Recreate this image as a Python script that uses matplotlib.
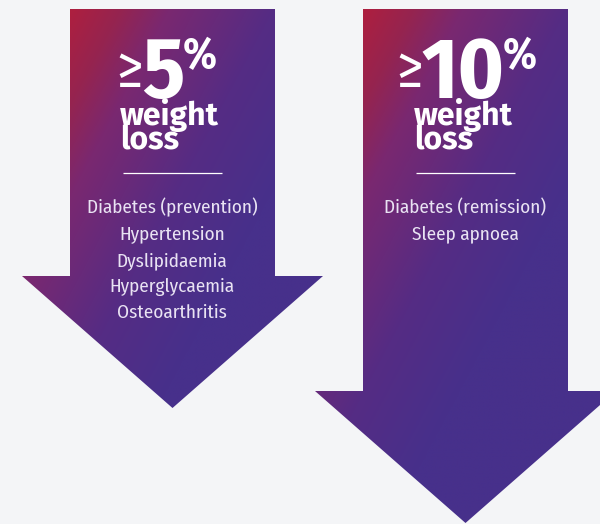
import numpy as np
import matplotlib
matplotlib.use("Agg")
import matplotlib.pyplot as plt
from matplotlib.patches import Polygon
from matplotlib.colors import LinearSegmentedColormap, Normalize

# Chart content
thresholds = ["5", "10"]
headline = ["weight", "loss"]
conditions_5 = ["Diabetes (prevention)", "Hypertension", "Dyslipidaemia",
                "Hyperglycaemia", "Osteoarthritis"]
conditions_10 = ["Diabetes (remission)", "Sleep apnoea"]
conditions = [conditions_5, conditions_10]

# layout (pixels, y down)
shaft_left = [70, 363]
shaft_w = 205
top_y = 9
head_y = [276, 391]
head_half = 150.5
head_h = 132
group_center = [166.5, 466.5]
wl_left = [120, 414]

bg = "#f4f5f7"
grad = LinearSegmentedColormap.from_list(
    "arrow", [(0.0, "#ae1f3f"), (0.17, "#952450"), (0.33, "#7a2870"),
              (0.68, "#552c84"), (1.0, "#47308b")])

cond_font = ["Fira Sans Condensed", "DejaVu Sans"]
bold_font = ["Fira Sans", "DejaVu Sans"]

fig = plt.figure(figsize=(6, 5.24), dpi=100, facecolor=bg)
ax = fig.add_axes([0, 0, 1, 1])
ax.set_facecolor(bg)
ax.set_xlim(0, 600)
ax.set_ylim(524, 0)
renderer = fig.canvas.get_renderer()

for i, pct in enumerate(thresholds):
    x0 = shaft_left[i]
    x1 = x0 + shaft_w
    cx = (x0 + x1) / 2
    hy = head_y[i]
    pts = [(x0, top_y), (x1, top_y), (x1, hy), (cx + head_half, hy),
           (cx, hy + head_h), (cx - head_half, hy), (x0, hy)]
    poly = Polygon(pts, closed=True, facecolor="none", edgecolor="none")
    ax.add_patch(poly)

    xmin, xmax = cx - head_half, cx + head_half
    ymin, ymax = top_y, hy + head_h
    xs = np.linspace(xmin, xmax, 320)
    ys = np.linspace(ymin, ymax, 420)
    X, Y = np.meshgrid(xs, ys)
    T = (X - x0) + 0.53 * (Y - top_y)
    img = ax.imshow(T, cmap=grad, norm=Normalize(0, 300), origin="upper",
                    extent=(xmin, xmax, ymax, ymin), aspect="auto",
                    interpolation="bilinear")
    img.set_clip_path(poly)

    # headline "≥5%" / "≥10%", laid out piece by piece
    ge = ax.text(0, 87, "≥", color="white", fontsize=42, family=cond_font,
                 fontweight="normal", ha="left", va="baseline")
    num = ax.text(0, 98, pct, color="white", fontsize=62, family=cond_font,
                  fontweight="bold", ha="left", va="baseline")
    pc = ax.text(0, 68, "%", color="white", fontsize=31, family=cond_font,
                 fontweight="bold", ha="left", va="baseline")
    w_ge = ge.get_window_extent(renderer).width
    w_num = num.get_window_extent(renderer).width
    w_pc = pc.get_window_extent(renderer).width
    gap1, gap2 = -1, -2
    total = w_ge + gap1 + w_num + gap2 + w_pc
    left = group_center[i] - total / 2
    ge.set_x(left)
    num.set_x(left + w_ge + gap1)
    pc.set_x(left + w_ge + gap1 + w_num + gap2)

    ax.text(wl_left[i], 125, headline[0], color="white", fontsize=23,
            family=bold_font, fontweight="bold", ha="left", va="baseline")
    ax.text(wl_left[i], 150, headline[1], color="white", fontsize=23,
            family=bold_font, fontweight="bold", ha="left", va="baseline")

    ax.plot([cx - 50, cx + 49], [173, 173], color="white", lw=0.9,
            solid_capstyle="butt")

    for j, cond in enumerate(conditions[i]):
        ax.text(cx - 0.5, 213 + j * 26.3, cond, color="#e9e3f3", fontsize=13.8,
                family=cond_font, fontweight="normal", ha="center", va="baseline")

ax.axis("off")

fig.savefig("out.png", dpi=100, facecolor=bg)
